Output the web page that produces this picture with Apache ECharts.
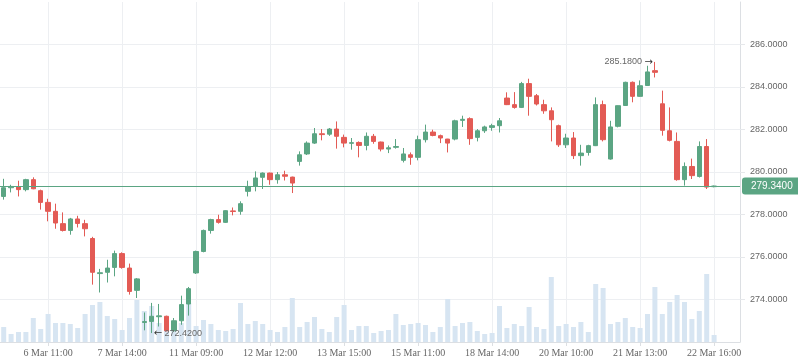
<!DOCTYPE html>
<html>
<head>
<meta charset="utf-8">
<script src="https://cdn.jsdelivr.net/npm/echarts@6/dist/echarts.min.js"></script>
<style>
html,body{margin:0;padding:0;background:#fff;}
#chart{width:798px;height:363px;}
</style>
</head>
<body>
<div id="chart"></div>
<script>
const categories = [
  '5 Mar 12:00','5 Mar 13:00','5 Mar 14:00','5 Mar 15:00','5 Mar 16:00',
  '6 Mar 10:00','6 Mar 11:00','6 Mar 12:00','6 Mar 13:00','6 Mar 14:00','6 Mar 15:00','6 Mar 16:00',
  '7 Mar 10:00','7 Mar 11:00','7 Mar 12:00','7 Mar 13:00','7 Mar 14:00','7 Mar 15:00','7 Mar 16:00',
  '8 Mar 10:00','8 Mar 11:00','8 Mar 12:00','8 Mar 13:00','8 Mar 14:00','8 Mar 15:00','8 Mar 16:00',
  '11 Mar 09:00','11 Mar 10:00','11 Mar 11:00','11 Mar 12:00','11 Mar 13:00','11 Mar 14:00','11 Mar 15:00',
  '12 Mar 09:00','12 Mar 10:00','12 Mar 11:00','12 Mar 12:00','12 Mar 13:00','12 Mar 14:00','12 Mar 15:00',
  '13 Mar 09:00','13 Mar 10:00','13 Mar 11:00','13 Mar 12:00','13 Mar 13:00','13 Mar 14:00','13 Mar 15:00',
  '14 Mar 09:00','14 Mar 10:00','14 Mar 11:00','14 Mar 12:00','14 Mar 13:00','14 Mar 14:00','14 Mar 15:00',
  '15 Mar 09:00','15 Mar 10:00','15 Mar 11:00','15 Mar 12:00','15 Mar 13:00','15 Mar 14:00','15 Mar 15:00',
  '18 Mar 09:00','18 Mar 10:00','18 Mar 11:00','18 Mar 12:00','18 Mar 13:00','18 Mar 14:00','18 Mar 15:00',
  '19 Mar 09:00','19 Mar 10:00','19 Mar 11:00','19 Mar 12:00','19 Mar 13:00','19 Mar 14:00','19 Mar 15:00',
  '20 Mar 09:00','20 Mar 10:00','20 Mar 11:00','20 Mar 12:00','20 Mar 13:00','20 Mar 14:00','20 Mar 15:00',
  '21 Mar 09:00','21 Mar 10:00','21 Mar 11:00','21 Mar 12:00','21 Mar 13:00','21 Mar 14:00','21 Mar 15:00',
  '22 Mar 09:00','22 Mar 10:00','22 Mar 11:00','22 Mar 12:00','22 Mar 13:00','22 Mar 14:00','22 Mar 15:00','22 Mar 16:00'
];
const opens = [278.85,279.26,279.29,279.17,279.64,279.12,278.57,278.15,277.57,277.25,277.79,277.57,276.87,275.22,275.28,275.51,276.16,275.48,274.43,272.92,272.97,273.19,273.21,272.53,273.00,273.79,275.25,276.26,277.25,277.76,277.63,278.17,278.15,279.09,279.32,279.75,279.95,279.64,279.87,279.76,280.50,280.85,281.36,281.80,281.78,282.02,281.63,281.35,281.39,281.25,281.68,281.41,281.08,281.16,280.55,280.81,280.69,281.52,281.88,281.71,281.55,281.55,282.43,282.51,281.63,281.94,282.10,282.18,283.48,283.17,283.04,284.16,283.59,283.17,282.88,282.18,281.28,281.60,280.77,280.92,281.24,283.17,280.61,282.15,283.13,284.22,283.56,284.07,284.77,283.21,281.94,281.44,279.64,280.26,279.79,281.20,279.31];
const closes = [279.26,279.32,279.17,279.64,279.21,278.57,278.15,277.60,277.25,277.79,277.58,277.33,275.28,275.26,275.48,276.16,275.51,274.38,274.97,272.96,273.21,273.23,272.53,273.00,273.76,274.51,276.26,277.25,277.76,277.63,278.18,278.14,278.51,279.32,279.72,279.95,279.64,279.87,279.80,279.48,280.81,281.36,281.80,281.76,282.02,281.68,281.36,281.38,281.25,281.68,281.44,281.08,281.14,281.20,280.85,280.69,281.52,281.88,281.72,281.60,281.36,282.41,282.48,281.57,281.94,282.12,282.18,282.41,283.17,283.04,284.16,283.56,283.20,282.88,282.46,281.28,281.60,280.77,280.89,281.24,283.17,281.52,282.12,283.12,284.22,283.56,284.06,284.71,284.69,281.96,281.49,279.64,280.26,279.83,281.20,279.29,279.34];
const lows = [278.70,279.04,278.85,279.09,279.19,278.23,277.68,277.33,277.20,277.05,277.39,276.97,274.70,274.33,274.80,275.09,275.45,274.23,274.07,272.55,272.42,272.73,272.50,272.48,272.81,273.24,275.20,276.22,277.10,277.57,277.60,277.96,277.99,278.85,279.09,279.20,279.40,279.45,279.60,279.01,280.30,280.80,281.32,281.49,281.70,281.10,281.16,281.05,280.69,281.02,281.33,280.97,280.89,281.10,280.45,280.34,280.55,281.39,281.68,281.36,280.92,281.49,282.12,281.28,281.44,281.84,281.94,281.86,283.15,282.98,283.01,282.65,283.13,282.74,281.44,281.18,281.13,280.61,280.30,280.77,281.22,281.44,280.58,282.10,283.12,283.28,283.54,284.05,284.45,281.71,281.44,279.59,279.36,279.67,279.74,279.20,279.28];
const highs = [279.68,279.40,279.59,279.68,279.75,279.17,278.74,278.51,278.10,277.84,277.94,277.75,276.95,275.44,275.87,276.30,276.22,275.69,275.01,273.39,273.84,273.79,273.24,273.13,274.18,274.59,276.30,277.29,277.80,277.99,278.20,278.33,278.62,279.59,280.03,279.98,279.97,280.00,280.06,279.78,280.97,281.44,282.07,282.02,282.07,282.38,281.76,281.60,281.44,281.86,281.79,281.43,281.25,281.55,281.13,280.92,281.71,282.23,281.99,281.76,281.56,282.46,282.65,282.57,282.02,282.18,282.27,282.54,283.75,283.76,284.24,284.39,283.67,283.40,283.04,282.23,281.80,281.88,281.28,281.28,283.51,283.36,282.41,283.13,284.25,284.26,284.31,285.00,285.18,283.83,283.04,281.86,280.45,280.63,281.44,281.55,279.36];
const volumes = [15,8,10,10,24,13,28,19,19,18,14,28,37,40,26,23,12,24,42,31,36,19,22,19,19,39,16,22,18,12,11,13,39,18,21,18,12,10,15,44,15,20,25,13,10,25,37,12,16,16,9,11,12,28,17,18,19,17,10,15,43,16,19,20,11,8,9,36,14,18,16,35,15,13,65,16,18,15,20,10,58,54,18,20,24,15,14,28,55,28,40,47,40,23,31,68,7];
const priceTicks = { min: 272, max: 288, step: 2 };

const UP = '#5ba583', DOWN = '#e35b55';
const xData = categories.concat(['', '', '']);
const candleData = opens.map((o, i) => [o, closes[i], lows[i], highs[i]]);
let maxIdx = 0, minIdx = 0;
highs.forEach((h, i) => { if (h > highs[maxIdx]) maxIdx = i; });
lows.forEach((l, i) => { if (l < lows[minIdx]) minIdx = i; });
const lastClose = closes[closes.length - 1];
const labelIv = (idx) => idx % 10 === 6 && idx < categories.length;
const sansFont = 'Liberation Sans';

const chart = echarts.init(document.getElementById('chart'), null, { renderer: 'canvas' });
chart.setOption({
  animation: false,
  backgroundColor: '#fff',
  grid: { left: 0, right: 58, top: 2, bottom: 21 },
  xAxis: [{
    type: 'category',
    data: xData,
    boundaryGap: true,
    axisLine: { show: true, lineStyle: { color: '#dcdfe3' } },
    axisTick: { show: true, alignWithLabel: true, interval: labelIv, length: 4, lineStyle: { color: '#dcdfe3' } },
    axisLabel: { interval: labelIv, color: '#666', fontFamily: 'Liberation Serif', fontSize: 10, margin: 6 },
    splitLine: { show: true, alignWithLabel: true, interval: labelIv, lineStyle: { color: '#edeff2' } }
  }],
  yAxis: [{
    type: 'value',
    position: 'right',
    min: priceTicks.min, max: priceTicks.max, interval: priceTicks.step,
    axisLine: { show: true, lineStyle: { color: '#dcdfe3' } },
    axisTick: { show: true, length: 5, lineStyle: { color: '#e6e8eb' } },
    axisLabel: { showMinLabel: false, showMaxLabel: false, color: '#666', fontFamily: sansFont, fontSize: 9, margin: 10,
      formatter: (v) => v.toFixed(4) },
    splitLine: { show: true, showMaxLine: false, lineStyle: { color: '#edeff2' } }
  }, {
    type: 'value', min: 0, max: 340, show: false,
    splitLine: { show: false }
  }],
  series: [{
    type: 'bar',
    yAxisIndex: 1,
    data: volumes,
    barWidth: 5,
    itemStyle: { color: '#d7e5f2' },
    z: 1,
    silent: true
  }, {
    type: 'candlestick',
    data: candleData,
    barWidth: 5,
    z: 3,
    itemStyle: { color: UP, color0: DOWN, borderColor: UP, borderColor0: DOWN, borderWidth: 1 },
    markLine: {
      symbol: ['none', 'none'],
      silent: true,
      lineStyle: { color: UP, width: 1, type: 'solid' },
      label: {
        position: 'end', distance: 2,
        formatter: () => lastClose.toFixed(4),
        color: '#fff', backgroundColor: UP, fontFamily: sansFont, fontSize: 10,
        padding: [4, 9, 3, 9], borderRadius: 3
      },
      data: [{ yAxis: lastClose }]
    },
    markPoint: {
      symbol: 'circle', symbolSize: 0,
      silent: true,
      data: [
        { coord: [maxIdx, highs[maxIdx]], value: highs[maxIdx],
          label: { position: 'left', distance: 2, formatter: (p) => p.value.toFixed(4) + ' {a|→}' } },
        { coord: [minIdx, lows[minIdx]], value: lows[minIdx],
          label: { position: 'right', distance: 2, formatter: (p) => '{a|←} ' + p.value.toFixed(4) } }
      ],
      label: {
        show: true, color: '#666', fontFamily: sansFont, fontSize: 9,
        rich: { a: { color: '#333', fontFamily: 'DejaVu Sans', fontSize: 10 } }
      }
    }
  }]
});
</script>
</body>
</html>
